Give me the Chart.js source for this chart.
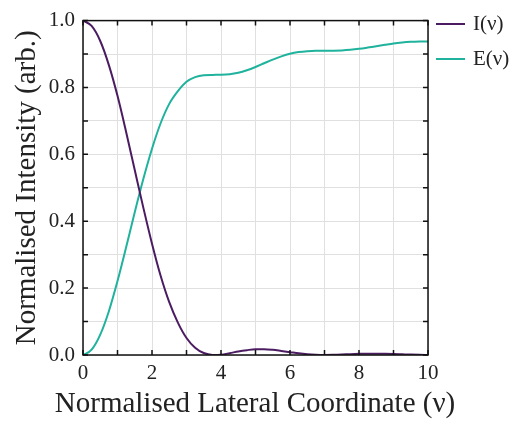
<!DOCTYPE html>
<html>
<head>
<meta charset="UTF-8">
<title>Airy</title>
<script src="https://cdn.jsdelivr.net/npm/chart.js"></script>
<style>
  html, body { margin: 0; padding: 0; background: #fff; }
  #wrap { width: 510px; height: 421px; }
</style>
</head>
<body>
<div id="wrap"><canvas id="chart"></canvas></div>
<script>
// values
const nu = [0, 0.25, 0.5, 0.75, 1, 1.25, 1.5, 1.75, 2, 2.25, 2.5, 2.75, 3, 3.25, 3.5, 3.75, 4,
            4.25, 4.5, 4.75, 5, 5.25, 5.5, 5.75, 6, 6.25, 6.5, 6.75, 7, 7.25, 7.5, 7.75, 8,
            8.25, 8.5, 8.75, 9, 9.25, 9.5, 9.75, 10];
const intensity = [1, 0.984, 0.939, 0.867, 0.775, 0.667, 0.553, 0.440, 0.333, 0.237, 0.158, 0.097, 0.051, 0.022, 0.006, 0.0003, 0.001,
                   0.0054, 0.0106, 0.0145, 0.0172, 0.0172, 0.0154, 0.012, 0.0085, 0.0049, 0.0022, 0.0006, 0.0000, 0.0004, 0.0013, 0.0025, 0.0034,
                   0.0040, 0.0041, 0.0037, 0.0030, 0.0021, 0.0012, 0.0005, 0.0001];
const energy = [0, 0.016, 0.061, 0.131, 0.221, 0.322, 0.427, 0.527, 0.617, 0.693, 0.751, 0.789, 0.817, 0.8308, 0.8366, 0.8376, 0.8379,
                0.8395, 0.8439, 0.8514, 0.8612, 0.8724, 0.8834, 0.8930, 0.9008, 0.9059, 0.9087, 0.9098, 0.9099, 0.9101, 0.9108, 0.9126, 0.9155,
                0.9193, 0.9235, 0.9277, 0.9317, 0.9345, 0.9364, 0.9374, 0.9376];
const seriesNames = ['I(\u03BD)', 'E(\u03BD)'];
const seriesColors = ['#4b1c62', '#1fb29c'];
const xTitle = 'Normalised Lateral Coordinate (\u03BD)';
const yTitle = 'Normalised Intensity (arb.)';

const serif = "'Liberation Serif', 'DejaVu Serif', serif";

// box, inward ticks, axis titles and legend on the right
// (titles drawn here because the scale title gets squeezed to the plot width)
const frame = {
  id: 'frame',
  afterDraw(chart) {
    const ctx = chart.ctx, a = chart.chartArea;
    const xs = chart.scales.x, ys = chart.scales.y;
    ctx.save();
    ctx.strokeStyle = '#111';
    ctx.lineWidth = 1.5;
    ctx.beginPath();
    xs.ticks.forEach(t => {
      const px = xs.getPixelForValue(t.value);
      ctx.moveTo(px, a.bottom); ctx.lineTo(px, a.bottom - 5);
      ctx.moveTo(px, a.top); ctx.lineTo(px, a.top + 5);
    });
    ys.ticks.forEach(t => {
      const py = ys.getPixelForValue(t.value);
      ctx.moveTo(a.left, py); ctx.lineTo(a.left + 5, py);
      ctx.moveTo(a.right, py); ctx.lineTo(a.right - 5, py);
    });
    ctx.stroke();
    ctx.strokeRect(a.left, a.top, a.right - a.left, a.bottom - a.top);

    ctx.fillStyle = '#222';
    ctx.font = '29px ' + serif;
    ctx.textAlign = 'center';
    ctx.textBaseline = 'middle';
    ctx.fillText(xTitle, 255, 404);
    ctx.save();
    ctx.translate(27, (a.top + a.bottom) / 2);
    ctx.rotate(-Math.PI / 2);
    ctx.fillText(yTitle, 0, 0);
    ctx.restore();

    // legend
    ctx.font = '21px ' + serif;
    ctx.textAlign = 'left';
    chart.data.datasets.forEach((ds, i) => {
      const y = 24 + i * 35;
      ctx.strokeStyle = ds.borderColor;
      ctx.lineWidth = 2;
      ctx.beginPath();
      ctx.moveTo(436, y); ctx.lineTo(465, y);
      ctx.stroke();
      ctx.fillStyle = '#222';
      ctx.fillText(ds.label, 473, y);
    });
    ctx.restore();
  }
};

new Chart(document.getElementById('chart'), {
  type: 'line',
  data: {
    datasets: [
      { label: seriesNames[0], data: nu.map((v, i) => ({ x: v, y: intensity[i] })),
        borderColor: seriesColors[0], borderWidth: 2, pointRadius: 0, cubicInterpolationMode: 'monotone' },
      { label: seriesNames[1], data: nu.map((v, i) => ({ x: v, y: energy[i] })),
        borderColor: seriesColors[1], borderWidth: 2, pointRadius: 0, cubicInterpolationMode: 'monotone' }
    ]
  },
  options: {
    responsive: true,
    maintainAspectRatio: false,
    animation: false,
    layout: { padding: { top: 11, right: 82, left: 0, bottom: 0 } },
    plugins: { legend: { display: false }, tooltip: { enabled: false } },
    scales: {
      x: {
        type: 'linear', min: 0, max: 10,
        afterFit: s => { s.height = 66; },
        grid: { color: '#e0e0e0', lineWidth: 1, drawTicks: false },
        border: { display: false },
        ticks: { stepSize: 1, padding: 6, color: '#222', font: { family: serif, size: 21 },
                 callback: v => (v % 2 === 0 ? String(v) : '') }
      },
      y: {
        min: 0, max: 1,
        afterFit: s => { s.width = 83; },
        grid: { color: '#e0e0e0', lineWidth: 1, drawTicks: false },
        border: { display: false },
        ticks: { stepSize: 0.1, padding: 8, color: '#222', font: { family: serif, size: 21 },
                 callback: v => (Math.round(v * 10) % 2 === 0 ? v.toFixed(1) : '') }
      }
    }
  },
  plugins: [frame]
});
</script>
</body>
</html>
